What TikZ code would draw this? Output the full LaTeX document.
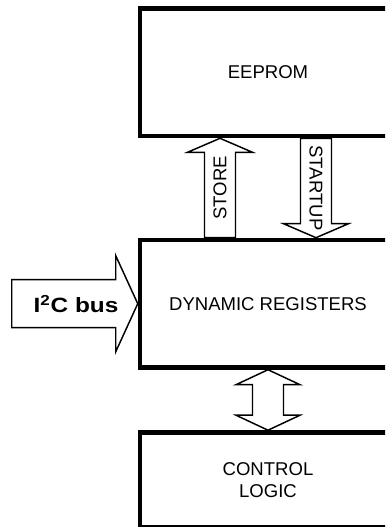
\documentclass[tikz,border=0pt]{standalone}
\usepackage{fontspec}
\setmainfont{Liberation Sans}
\usetikzlibrary{calc}

\begin{document}
\begin{tikzpicture}[x=0.75pt, y=-0.75pt,
    font=\fontsize{13.9}{16.5}\selectfont,
    block/.style={draw, line width=3.4pt, inner sep=0pt,
      minimum width=192pt, align=center},
    blk/.style={draw, fill=white, line width=1.1pt, line join=miter}]
  \useasboundingbox (0,0) rectangle (385,527);
  \clip (0,0) rectangle (385,527);
  % Bloecke
  \node[block, minimum height=95.6pt] (eeprom) at (268,72.3) {EEPROM};
  \node[block, minimum height=95.6pt] (dynreg) at (268,303.7) {DYNAMIC REGISTERS};
  \node[block, minimum height=71.3pt] (ctrl)   at (268,480)   {CONTROL\\LOGIC};
  % STORE -- nach oben
  \coordinate (st) at ($(eeprom.south)+(-48,0)$);
  \draw[blk] (st) -- ++(32.5,14) -- ++(-17,0)
    -- ($(st |- dynreg.north)+(15.5,0)$) -- ++(-31,0)
    -- ($(st)+(-15.5,14)$) -- ++(-17,0) -- cycle;
  \node[rotate=90] (store) at ($(st)!0.5!(st |- dynreg.north)$) {STORE};
  % STARTUP -- nach unten
  \coordinate (su) at ($(dynreg.north)+(48,0)$);
  \draw[blk] (su) -- ++(32.5,-14) -- ++(-17,0)
    -- ($(su |- eeprom.south)+(15.5,0)$) -- ++(-31,0)
    -- ($(su)+(-15.5,-14)$) -- ++(-17,0) -- cycle;
  \node[rotate=-90] (startup) at ($(su)!0.5!(su |- eeprom.south)$) {STARTUP};
  % Register <-> Steuerlogik
  \draw[blk] (dynreg.south) -- ++(32,15) -- ++(-16.5,0)
    -- ($(ctrl.north)+(15.5,-15)$) -- ++(16.5,0) -- (ctrl.north)
    -- ++(-32,-15) -- ++(16.5,0)
    -- ($(dynreg.south)+(-15.5,15)$) -- ++(-16.5,0) -- cycle;
  % I2C-Bus
  \draw[blk] (dynreg.west) -- ++(-22,-48) -- ++(0,24) -- ++(-104,0)
    -- ++(0,48) -- ++(104,0) -- ++(0,24) -- cycle;
  \node[font=\fontsize{15.5}{18}\selectfont\bfseries] (i2c) at (76,304)
    {\scalebox{1.18}[1]{I\textsuperscript{2}C bus}};
\end{tikzpicture}
\end{document}
